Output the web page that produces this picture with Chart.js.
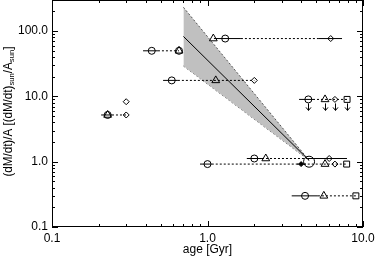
<!DOCTYPE html>
<html>
<head>
<meta charset="utf-8">
<script src="https://cdn.jsdelivr.net/npm/chart.js@4.4.0/dist/chart.umd.min.js"></script>
<style>
  html, body { margin: 0; padding: 0; background: #fff; }
</style>
</head>
<body>
<canvas id="myChart" width="375" height="258"></canvas>
<script>
// ages in Gyr, mass loss rate per area in solar units
var circleAge = [0.438, 0.656, 0.589, 1.30, 0.228, 4.45, 2.0, 1.0, 4.24]
var circleRate = [50, 50, 17.6, 77, 5.2, 9.0, 1.12, 0.92, 0.30]

var triangleAge = [0.656, 1.13, 1.09, 0.228, 5.7, 2.37, 5.7, 5.6]
var triangleRate = [50, 17.6, 77, 5.2, 9.0, 1.12, 0.92, 0.30]

var diamondAge = [2.0, 6.2, 0.30, 0.30, 6.6, 6.06, 6.6]
var diamondRate = [17.6, 77, 8.3, 5.2, 9.0, 1.12, 0.92]

var filledAge = [4.0]
var filledRate = [0.92]

var squareAge = [7.9, 7.85, 9.0]
var squareRate = [9.0, 0.92, 0.30]

var sunAge = [4.5]
var sunRate = [1.0]

// upper limits (arrows pointing down)
var limitAge = [4.45, 5.7, 6.6, 7.9]
var limitRate = [9.0, 9.0, 9.0, 9.0]

// solid age ranges
var solidLo = [0.385, 0.518, 1.10, 5.21, 0.207, 3.88, 1.79, 4.36, 0.895, 3.76, 3.48]
var solidHi = [0.48, 0.645, 1.64, 7.33, 0.243, 4.77, 2.24, 7.89, 1.065, 4.3, 5.13]
var solidRate = [50, 17.6, 77, 77, 5.2, 9.0, 1.12, 1.12, 0.92, 0.92, 0.30]

// dotted connections
var dotLo = [0.48, 0.645, 1.64, 0.243, 4.77, 2.24, 1.065, 5.13]
var dotHi = [0.656, 2.0, 5.21, 0.30, 7.9, 4.36, 7.85, 9.0]
var dotRate = [50, 17.6, 77, 5.2, 9.0, 1.12, 0.92, 0.30]

// power law fit and its uncertainty band
var fitAge = [0.7, 4.5]
var fitRate = [83, 1.05]
var bandHigh = [232, 1.05]
var bandLow = [29.3, 1.05]

var xTicks = [0.1, 1, 10]
var yTicks = [0.1, 1, 10, 100]

function pts(xs, ys) {
    return xs.map((v, i) => ({x: v, y: ys[i]}))
}

function markers(xs, ys, style, r, fillCol) {
    return {
        data: pts(xs, ys),
        showLine: false,
        pointStyle: style,
        pointRadius: r,
        pointHoverRadius: r,
        pointBorderColor: '#000',
        pointBackgroundColor: fillCol || 'rgba(0,0,0,0)',
        pointBorderWidth: 1
    }
}

function segment(lo, hi, rate, dash) {
    return {
        data: [{x: lo, y: rate}, {x: hi, y: rate}],
        showLine: true,
        borderColor: '#000',
        borderWidth: 1,
        borderDash: dash,
        pointRadius: 0,
        fill: false
    }
}

var datasets = [
    markers(circleAge, circleRate, 'circle', 3.5),
    markers(triangleAge, triangleRate, 'triangle', 4.5),
    markers(diamondAge, diamondRate, 'rectRot', 3),
    markers(filledAge, filledRate, 'rectRot', 2.5, '#000'),
    markers(squareAge, squareRate, 'rect', 4.2),
    markers(sunAge, sunRate, 'circle', 5.5)
]
solidLo.forEach((lo, i) => datasets.push(segment(lo, solidHi[i], solidRate[i], [])))
dotLo.forEach((lo, i) => datasets.push(segment(lo, dotHi[i], dotRate[i], [2, 2])))

// fit line, then band (band is drawn underneath)
datasets.push({
    data: pts(fitAge, fitRate), showLine: true, borderColor: '#000', borderWidth: 1,
    pointRadius: 0, fill: false
})
datasets.push({
    data: pts(fitAge, bandHigh), showLine: true, borderColor: '#555', borderWidth: 1,
    borderDash: [2, 2], pointRadius: 0, fill: '+1', backgroundColor: '#c0c0c0'
})
datasets.push({
    data: pts(fitAge, bandLow), showLine: true, borderColor: '#555', borderWidth: 1,
    borderDash: [2, 2], pointRadius: 0, fill: false
})

var font = 'Liberation Sans, Arial, Helvetica, sans-serif'

const frameTicks = {
    id: 'frameTicks',
    afterDraw(chart) {
        const ctx = chart.ctx, a = chart.chartArea
        const xs = chart.scales.x, ys = chart.scales.y
        ctx.save()
        ctx.strokeStyle = '#000'
        ctx.lineWidth = 1
        ctx.strokeRect(a.left + 0.5, a.top + 0.5, a.right - a.left - 1, a.bottom - a.top - 1)
        ctx.beginPath()
        ;[0.1, 1].forEach(d => {
            for (let k = 1; k <= 10; k++) {
                const px = Math.round(xs.getPixelForValue(d * k)) + 0.5
                const len = (k === 1 || k === 10) ? 6 : 3
                ctx.moveTo(px, a.bottom); ctx.lineTo(px, a.bottom - len)
                ctx.moveTo(px, a.top); ctx.lineTo(px, a.top + len)
            }
        })
        ;[0.1, 1, 10, 100].forEach(d => {
            for (let k = 1; k <= 9; k++) {
                const v = d * k
                if (v > ys.max) break
                const py = Math.round(ys.getPixelForValue(v)) + 0.5
                const len = k === 1 ? 6 : 3
                ctx.moveTo(a.left, py); ctx.lineTo(a.left + len, py)
                ctx.moveTo(a.right, py); ctx.lineTo(a.right - len, py)
            }
        })
        ctx.stroke()

        // down arrows for upper limits
        ctx.beginPath()
        limitAge.forEach((age, i) => {
            const px = Math.round(xs.getPixelForValue(age)) + 0.5
            const py = ys.getPixelForValue(limitRate[i])
            ctx.moveTo(px, py + 4); ctx.lineTo(px, py + 11)
            ctx.moveTo(px - 2.5, py + 8); ctx.lineTo(px, py + 11); ctx.lineTo(px + 2.5, py + 8)
        })
        ctx.stroke()

        // tick labels
        ctx.fillStyle = '#000'
        ctx.font = '12px ' + font
        ctx.textBaseline = 'middle'
        ctx.textAlign = 'right'
        yTicks.forEach(v => ctx.fillText(v.toFixed(1), a.left - 4, ys.getPixelForValue(v)))
        ctx.textAlign = 'center'
        xTicks.forEach(v => ctx.fillText(v.toFixed(1), xs.getPixelForValue(v), a.bottom + 12))

        // axis titles
        ctx.fillText('age [Gyr]', (a.left + a.right) / 2, 250)

        const parts = [
            ['(dM/dt)/A [(dM/dt)', 0], ['sun', 1], ['/A', 0], ['sun', 1], [']', 0]
        ]
        const fontOf = p => (p[1] ? '8px ' : '12px ') + font
        let total = 0
        parts.forEach(p => { ctx.font = fontOf(p); total += ctx.measureText(p[0]).width })
        ctx.translate(9, (a.top + a.bottom) / 2 - 2)
        ctx.rotate(-Math.PI / 2)
        ctx.scale(130 / total, 1)
        ctx.textAlign = 'left'
        let cx = -total / 2
        parts.forEach(p => {
            ctx.font = fontOf(p)
            ctx.fillText(p[0], cx, p[1] ? 3 : 0)
            cx += ctx.measureText(p[0]).width
        })
        ctx.restore()
    }
}

var myChart = new Chart(document.getElementById('myChart').getContext('2d'), {
    type: 'scatter',
    data: {datasets: datasets},
    options: {
        responsive: false,
        animation: false,
        layout: {autoPadding: false, padding: {top: 0, right: 12, left: 0, bottom: 0}},
        plugins: {legend: {display: false}, tooltip: {enabled: false}},
        scales: {
            x: {
                type: 'logarithmic',
                min: 0.1,
                max: 10,
                afterBuildTicks: s => { s.ticks = xTicks.map(v => ({value: v})) },
                afterFit: s => { s.height = 31 },
                grid: {display: false, drawTicks: false},
                border: {display: false},
                ticks: {display: false}
            },
            y: {
                type: 'logarithmic',
                min: 0.1,
                max: 300,
                afterBuildTicks: s => { s.ticks = yTicks.map(v => ({value: v})) },
                afterFit: s => { s.width = 52 },
                grid: {display: false, drawTicks: false},
                border: {display: false},
                ticks: {display: false}
            }
        }
    },
    plugins: [frameTicks]
});
</script>
</body>
</html>
